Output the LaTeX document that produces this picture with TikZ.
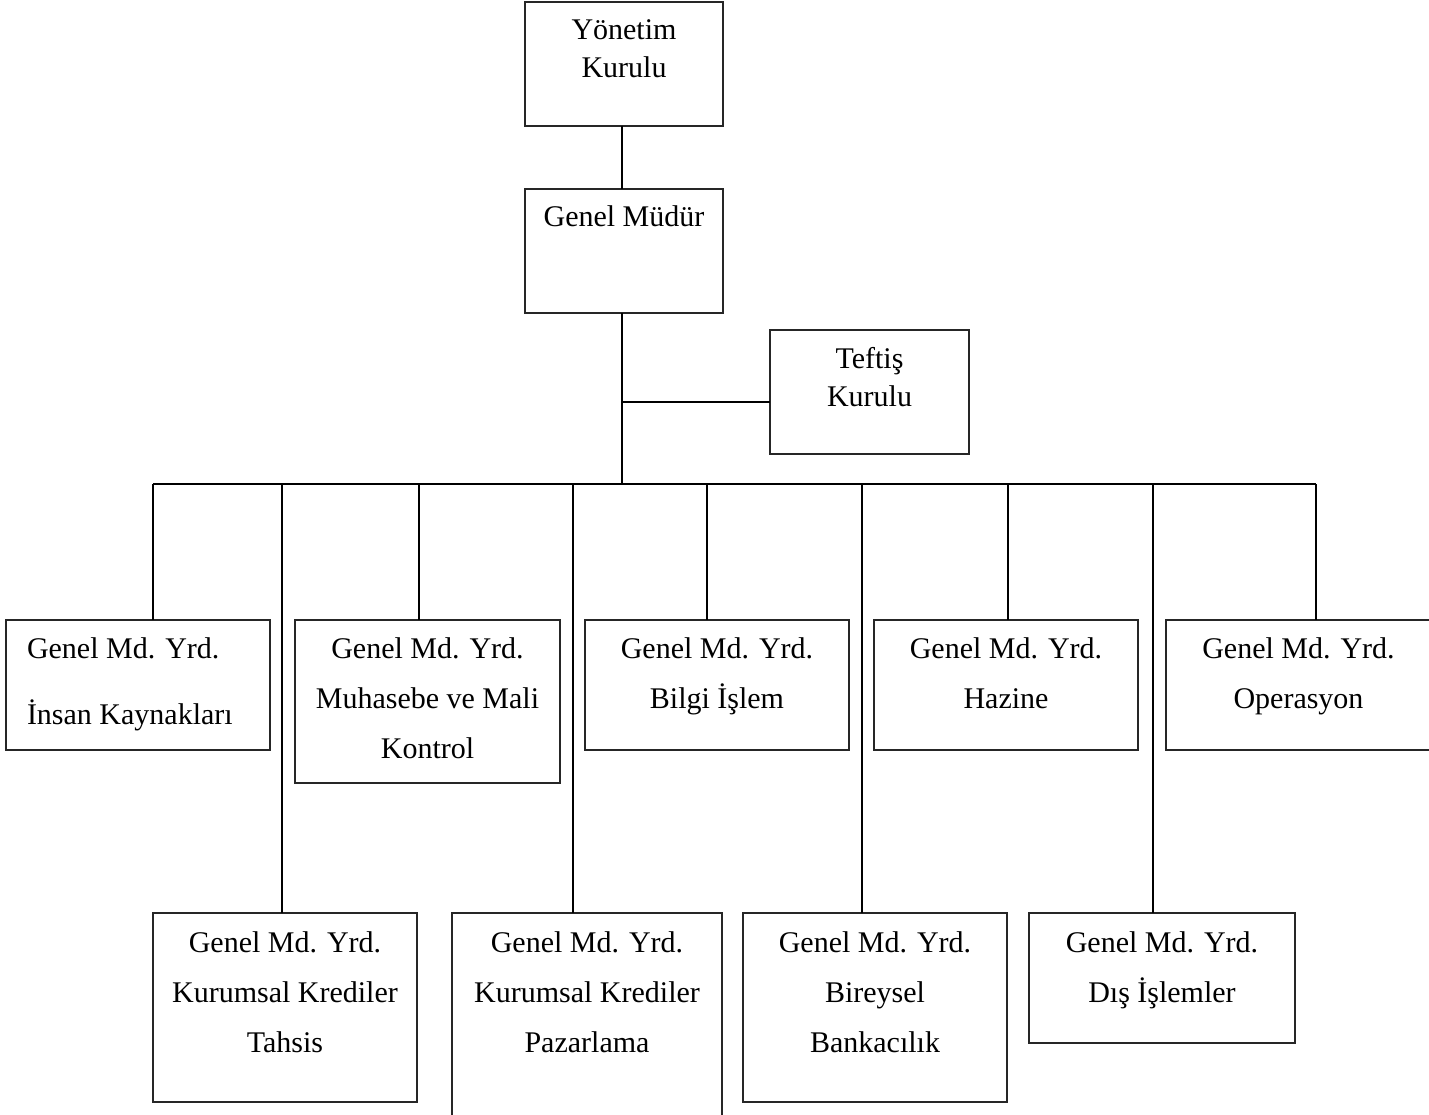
\documentclass[tikz,border=0pt]{standalone}
\usepackage{fontspec}
\setmainfont{Liberation Serif}
\newcommand\bxc[5]{\parbox[t][#2pt][t]{#1pt}{\centering\fontsize{30pt}{#4pt}\selectfont\rule{0pt}{#3pt}#5\par}}
\newcommand\bxl[5]{\parbox[t][#2pt][t]{#1pt}{\raggedright\leftskip=21pt\fontsize{30pt}{#4pt}\selectfont\rule{0pt}{#3pt}#5\par}}
\tikzset{
  box/.style={draw=black!85, line width=1.6pt, inner sep=0pt, outer sep=0pt, anchor=north west},
  link/.style={draw=black, line width=2pt}
}
\begin{document}
\begin{tikzpicture}[x=1pt,y=-1pt]
\useasboundingbox (0,0) rectangle (1429,1115);
\clip (0,0) rectangle (1429,1115);
% top
\node[box] (yk) at (525,2) {\bxc{198}{124}{38}{38}{Yönetim\\Kurulu}};
\node[box] (gm) at (525,189) {\bxc{198}{124}{38}{38}{Genel Müdür}};
\node[box] (tk) at (770,330) {\bxc{199}{124}{38}{38}{Teftiş\\Kurulu}};
% row 1
\node[box] (ik) at (6,620) {\bxl{264}{130}{38}{66}{Genel Md. Yrd.\\İnsan Kaynakları}};
\node[box] (mm) at (295,620) {\bxc{265}{163}{38}{50}{Genel Md. Yrd.\\Muhasebe ve Mali\\Kontrol}};
\node[box] (bi) at (585,620) {\bxc{264}{130}{38}{50}{Genel Md. Yrd.\\Bilgi İşlem}};
\node[box] (hz) at (874,620) {\bxc{264}{130}{38}{50}{Genel Md. Yrd.\\Hazine}};
\node[box] (op) at (1166,620) {\bxc{265}{130}{38}{50}{Genel Md. Yrd.\\Operasyon}};
% row 2
\node[box] (kt) at (153,913) {\bxc{264}{189}{39}{50}{Genel Md. Yrd.\\Kurumsal Krediler\\Tahsis}};
\node[box] (kp) at (452,913) {\bxc{270}{230}{39}{50}{Genel Md. Yrd.\\Kurumsal Krediler\\Pazarlama}};
\node[box] (bb) at (743,913) {\bxc{264}{189}{39}{50}{Genel Md. Yrd.\\Bireysel\\Bankacılık}};
\node[box] (di) at (1029,913) {\bxc{266}{130}{39}{50}{Genel Md. Yrd.\\Dış İşlemler}};
% bus coordinates
\coordinate (trunk) at (622,484);
\coordinate (d1) at (153,484);
\coordinate (d2) at (282,484);
\coordinate (d3) at (419,484);
\coordinate (d4) at (573,484);
\coordinate (d5) at (707,484);
\coordinate (d6) at (862,484);
\coordinate (d7) at (1008,484);
\coordinate (d8) at (1153,484);
\coordinate (d9) at (1316,484);
\coordinate (tj) at (622,402);
% connectors
\draw[link] (yk.south -| trunk) -- (gm.north -| trunk);
\draw[link] (gm.south -| trunk) -- (trunk);
\draw[link] (tj) -- (tj -| tk.west);
\draw[link] (d1) -- (d9);
\draw[link] (d1) -- (d1 |- ik.north);
\draw[link] (d2) -- (d2 |- kt.north);
\draw[link] (d3) -- (d3 |- mm.north);
\draw[link] (d4) -- (d4 |- kp.north);
\draw[link] (d5) -- (d5 |- bi.north);
\draw[link] (d6) -- (d6 |- bb.north);
\draw[link] (d7) -- (d7 |- hz.north);
\draw[link] (d8) -- (d8 |- di.north);
\draw[link] (d9) -- (d9 |- op.north);
\end{tikzpicture}
\end{document}
